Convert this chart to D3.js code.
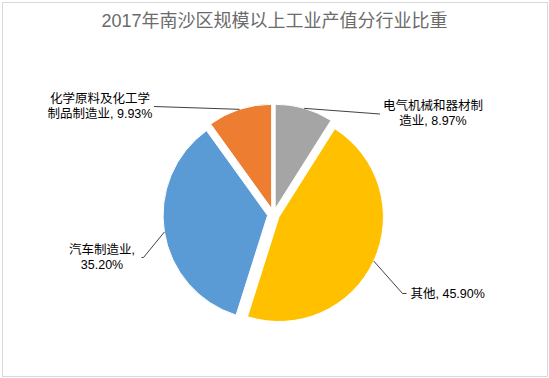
<!DOCTYPE html>
<html>
<head>
<meta charset="utf-8">
<script src="https://cdn.jsdelivr.net/npm/d3@7/dist/d3.min.js"></script>
<style>
  body { margin: 0; background: #fff; }
  #chart { width: 549px; height: 378px; }
  text { font-family: "Liberation Sans", Arial, "Noto Sans CJK SC", sans-serif; }
</style>
</head>
<body>
<div id="chart"></div>
<script>
// chart data, clockwise from 12 o'clock
const title = "2017年南沙区规模以上工业产值分行业比重";
const categories = ["电气机械和器材制造业", "其他", "汽车制造业", "化学原料及化工学制品制造业"];
const values = [8.97, 45.90, 35.20, 9.93];
const colors = ["#A5A5A5", "#FFC000", "#5B9BD5", "#ED7D31"];
// where each label text wraps (character index, null = one line)
const wrapAt = [8, null, 6, 8];

const width = 549, height = 378;
const cx = 273.5, cy = 214.5, radius = 104.5, explode = 6;

// label layout: anchor point of first line and leader line points on the label side
const labelLayout = [
    { x: 433, y: 106, anchor: "middle", leader: [[380, 114]] },
    { x: 410.5, y: 294, anchor: "start", leader: [[406.5, 293.5], [402.5, 293.5]] },
    { x: 102, y: 250, anchor: "middle", leader: [[141.5, 257.5], [143.5, 257.5]] },
    { x: 100, y: 99, anchor: "middle", leader: [[154, 106.5]] }
];

const svg = d3.select("#chart").append("svg")
    .attr("width", width)
    .attr("height", height);

// chart border
svg.append("rect")
    .attr("x", 2.5).attr("y", 2.5)
    .attr("width", 545).attr("height", 374)
    .attr("fill", "#fff")
    .attr("stroke", "#D9D9D9")
    .attr("stroke-width", 1);

// title
svg.append("text")
    .attr("x", 274.5)
    .attr("y", 21)
    .attr("text-anchor", "middle")
    .attr("dominant-baseline", "central")
    .attr("font-size", "18px")
    .attr("fill", "#6b6b6b")
    .text(title);

const pie = d3.pie().sort(null).value(d => d);
const arcs = pie(values);

const arc = d3.arc().innerRadius(0).outerRadius(radius);
const edgeArc = d3.arc().innerRadius(radius).outerRadius(radius);

// offset of each exploded slice along its middle angle
const shift = d => {
    const a = (d.startAngle + d.endAngle) / 2;
    return [explode * Math.sin(a), -explode * Math.cos(a)];
};

const g = svg.append("g").attr("transform", `translate(${cx},${cy})`);

g.selectAll(".slice")
    .data(arcs)
    .enter()
    .append("path")
    .attr("class", "slice")
    .attr("transform", d => `translate(${shift(d)[0]},${shift(d)[1]})`)
    .attr("d", arc)
    .attr("fill", (d, i) => colors[i])
    .attr("stroke", "#fff")
    .attr("stroke-width", 1);

// leader lines, from label to slice edge at its middle angle
const line = d3.line();
svg.selectAll(".leader")
    .data(arcs)
    .enter()
    .append("path")
    .attr("class", "leader")
    .attr("d", (d, i) => {
        const s = shift(d);
        const c = edgeArc.centroid(d);
        const end = [cx + s[0] + c[0], cy + s[1] + c[1]];
        return line(labelLayout[i].leader.concat([end]));
    })
    .attr("fill", "none")
    .attr("stroke", "#404040")
    .attr("stroke-width", 1);

// data labels
const fmt = d3.format(".2f");
categories.forEach((name, i) => {
    const full = `${name}, ${fmt(values[i])}%`;
    const lines = wrapAt[i] == null ? [full] : [full.slice(0, wrapAt[i]), full.slice(wrapAt[i]).trim()];
    const pos = labelLayout[i];
    const t = svg.append("text")
        .attr("class", "label")
        .attr("text-anchor", pos.anchor)
        .attr("font-size", "12.5px")
        .attr("fill", "#000");
    lines.forEach((l, k) => {
        t.append("tspan")
            .attr("x", pos.x)
            .attr("y", pos.y + k * 15)
            .attr("dy", "0.35em")
            .text(l);
    });
});
</script>
</body>
</html>
